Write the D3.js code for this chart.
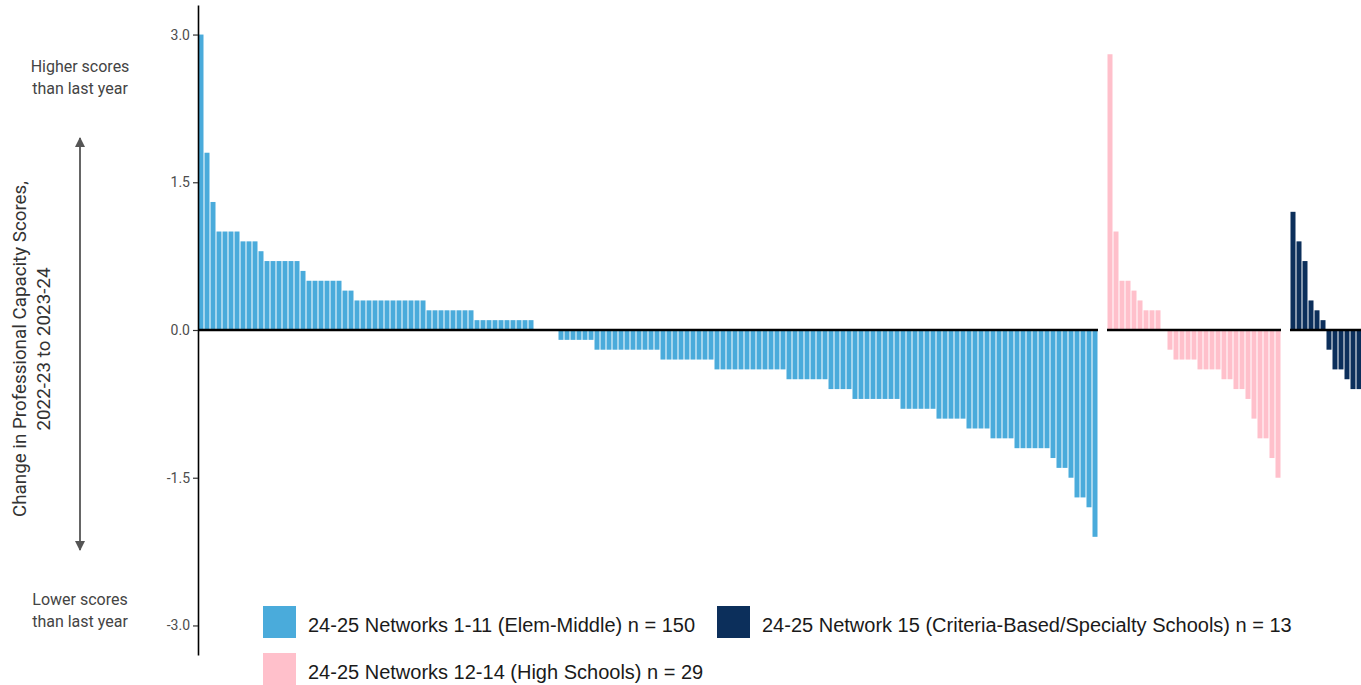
<!DOCTYPE html>
<html><head><meta charset="utf-8">
<script src="https://cdn.jsdelivr.net/npm/d3@7"></script>
<style>body{margin:0;overflow:hidden;background:#fff}</style>
</head><body><svg id="c" width="1361" height="685"></svg>
<script>
const elemMiddleValues = [3.0, 1.8, 1.3, 1.0, 1.0, 1.0, 1.0, 0.9, 0.9, 0.9, 0.8,
  0.7, 0.7, 0.7, 0.7, 0.7, 0.7, 0.6, 0.5, 0.5, 0.5, 0.5, 0.5, 0.5, 0.4, 0.4,
  0.3, 0.3, 0.3, 0.3, 0.3, 0.3, 0.3, 0.3, 0.3, 0.3, 0.3, 0.3,
  0.2, 0.2, 0.2, 0.2, 0.2, 0.2, 0.2, 0.2,
  0.1, 0.1, 0.1, 0.1, 0.1, 0.1, 0.1, 0.1, 0.1, 0.1,
  0.0, 0.0, 0.0, 0.0,
  -0.1, -0.1, -0.1, -0.1, -0.1, -0.1,
  -0.2, -0.2, -0.2, -0.2, -0.2, -0.2, -0.2, -0.2, -0.2, -0.2, -0.2,
  -0.3, -0.3, -0.3, -0.3, -0.3, -0.3, -0.3, -0.3, -0.3,
  -0.4, -0.4, -0.4, -0.4, -0.4, -0.4, -0.4, -0.4, -0.4, -0.4, -0.4, -0.4,
  -0.5, -0.5, -0.5, -0.5, -0.5, -0.5, -0.5,
  -0.6, -0.6, -0.6, -0.6,
  -0.7, -0.7, -0.7, -0.7, -0.7, -0.7, -0.7, -0.7,
  -0.8, -0.8, -0.8, -0.8, -0.8, -0.8,
  -0.9, -0.9, -0.9, -0.9, -0.9,
  -1.0, -1.0, -1.0, -1.0,
  -1.1, -1.1, -1.1, -1.1,
  -1.2, -1.2, -1.2, -1.2, -1.2, -1.2,
  -1.3, -1.4, -1.4, -1.5, -1.7, -1.7, -1.8, -2.1];
const highSchoolValues = [2.8, 1.0, 0.5, 0.5, 0.4, 0.3, 0.2, 0.2, 0.2, 0.0,
  -0.2, -0.3, -0.3, -0.3, -0.3, -0.4, -0.4, -0.4, -0.4, -0.5, -0.5, -0.6, -0.6,
  -0.7, -0.9, -1.1, -1.1, -1.3, -1.5];
const specialtyValues = [1.2, 0.9, 0.7, 0.3, 0.2, 0.1, -0.2, -0.4, -0.4, -0.5, -0.6, -0.6, -0.7];
const groupNames = ["24-25 Networks 1-11 (Elem-Middle) n = 150",
  "24-25 Networks 12-14 (High Schools) n = 29",
  "24-25 Network 15 (Criteria-Based/Specialty Schools) n = 13"];
const groupColors = ["#4AABDB", "#FFC0CB", "#0C2F5B"];
const yTicks = [3.0, 1.5, 0.0, -1.5, -3.0];
const yTitleLines = ["Change in Professional Capacity Scores,", "2022-23 to 2023-24"];
const upLabel = ["Higher scores", "than last year"];
const downLabel = ["Lower scores", "than last year"];

const svg = d3.select("#c");
const plotLeft = 198, plotTop = 5, plotBottom = 655, step = 6, gap = 9;
const y = d3.scaleLinear().domain([-3.3, 3.3]).range([plotBottom, plotTop]);

const groups = [elemMiddleValues, highSchoolValues, specialtyValues].map((v, i) => ({
  values: v, name: groupNames[i], color: groupColors[i]
}));
let x0 = plotLeft;
groups.forEach(g => {
  g.x = d3.scaleBand().domain(d3.range(g.values.length))
    .range([x0, x0 + g.values.length * step]).paddingInner(1 / 6).paddingOuter(1 / 12);
  x0 += g.values.length * step + gap;
});

// bars
groups.forEach(g => {
  svg.append("g").selectAll("rect").data(g.values).join("rect")
    .attr("x", (d, i) => g.x(i))
    .attr("width", g.x.bandwidth())
    .attr("y", d => y(Math.max(0, d)))
    .attr("height", d => Math.abs(y(d) - y(0)))
    .attr("fill", g.color);
});
// zero line per panel
groups.forEach(g => {
  const r = g.x.range();
  svg.append("line").attr("x1", r[0]).attr("x2", r[1])
    .attr("y1", y(0)).attr("y2", y(0))
    .attr("stroke", "#000").attr("stroke-width", 2.6);
});

// y axis
const ax = svg.append("g").attr("transform", `translate(${plotLeft},0)`)
  .call(d3.axisLeft(y).tickValues(yTicks).tickFormat(d => d.toFixed(1))
    .tickSize(5).tickSizeOuter(0).tickPadding(3));
ax.select(".domain").attr("stroke", "#000").attr("stroke-width", 1.6);
ax.selectAll(".tick line").attr("stroke", "#333").attr("stroke-width", 1.2);
ax.selectAll(".tick text").attr("fill", "#4d4d4d").style("font-family", "Roboto")
  .style("font-size", "14px");

// y title
const yt = svg.append("text").attr("transform", "translate(26,349) rotate(-90)")
  .attr("text-anchor", "middle").attr("fill", "#333")
  .style("font-family", "Roboto").style("font-size", "18.8px");
yt.append("tspan").attr("x", 0).attr("y", 0).text(yTitleLines[0]);
yt.append("tspan").attr("x", 0).attr("y", 24).text(yTitleLines[1]);

// arrow
const defs = svg.append("defs");
defs.append("marker").attr("id", "ah").attr("viewBox", "0 0 10 10")
  .attr("refX", 9).attr("refY", 5).attr("markerWidth", 10).attr("markerHeight", 10)
  .attr("markerUnits", "userSpaceOnUse").attr("orient", "auto-start-reverse")
  .append("path").attr("d", "M0,0 L10,5 L0,10 Z").attr("fill", "#555");
svg.append("line").attr("x1", 80).attr("x2", 80).attr("y1", 138).attr("y2", 550)
  .attr("stroke", "#555").attr("stroke-width", 1.8)
  .attr("marker-start", "url(#ah)").attr("marker-end", "url(#ah)");

// direction labels
function lbl(lines, yb) {
  const t = svg.append("text").attr("text-anchor", "middle").attr("fill", "#444")
    .style("font-family", "Roboto").style("font-size", "16px");
  lines.forEach((s, i) => t.append("tspan").attr("x", 80).attr("y", yb + i * 22).text(s));
}
lbl(upLabel, 72);
lbl(downLabel, 605);

// legend
const legendPos = [[263, 606], [263, 653], [717, 606]];
groups.forEach((g, i) => {
  const [lx, ly] = legendPos[i];
  svg.append("rect").attr("x", lx).attr("y", ly).attr("width", 33).attr("height", 32)
    .attr("fill", g.color);
  svg.append("text").attr("x", lx + 45).attr("y", ly + 25.5).attr("fill", "#1a1a1a")
    .style("font-family", "Liberation Sans, Arial").style("font-size", "20px").text(g.name);
});
</script></body></html>
